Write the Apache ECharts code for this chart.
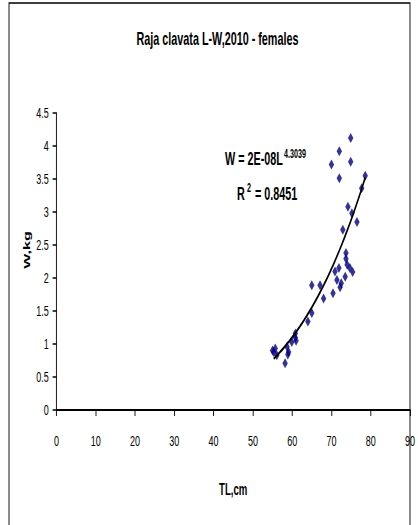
<!DOCTYPE html>
<html><head><meta charset="utf-8">
<script src="https://cdn.jsdelivr.net/npm/echarts@6/dist/echarts.min.js"></script>
<style>
html,body{margin:0;padding:0;overflow:hidden;background:#fff;width:418px;height:525px}
#wrap{position:absolute;left:0;top:0;width:418px;height:525px;overflow:hidden}
#chart{position:absolute;left:0;top:0;width:697px;height:525px;transform:scaleX(0.6);transform-origin:0 0}
</style></head>
<body><div id="wrap"><div id="chart"></div></div>
<script>
// ---- data ----
const titleText = 'Raja clavata L-W,2010 - females';
const xName = 'TL,cm';
const yName = 'W,kg';
const lengthTL = [55.3, 55.7, 56.1, 55.0, 58.2, 58.7, 59.1, 58.9, 59.9, 60.8, 60.8, 61.0, 64.0, 65.0, 65.0, 67.1, 68.0, 70.4, 70.9, 71.4, 71.9, 72.2, 72.5, 73.5, 73.7, 73.7, 74.0, 74.7, 75.4, 72.9, 74.2, 75.2, 76.5, 77.7, 78.6, 70.0, 72.0, 72.0, 74.9, 74.9];
const weightKg = [0.88, 0.93, 0.83, 0.90, 0.71, 0.96, 0.88, 0.84, 1.03, 1.10, 1.16, 1.05, 1.34, 1.47, 1.89, 1.89, 1.69, 1.77, 2.10, 1.97, 2.15, 1.86, 1.92, 2.02, 2.38, 2.29, 2.20, 2.15, 2.09, 2.73, 3.08, 2.98, 2.85, 3.36, 3.55, 3.72, 3.92, 3.51, 4.12, 3.76];
const xTicks = [0, 10, 20, 30, 40, 50, 60, 70, 80, 90];
const yTicks = [0, 0.5, 1, 1.5, 2, 2.5, 3, 3.5, 4, 4.5];
// power trendline W = a * L^b (equation shown on the chart)
const trendCoef = 2.45e-8;
const trendExp = 4.3039;
const trendFrom = 55.3;
const trendTo = 78.6;
const eqMain = 'W = 2E-08L';
const eqSup = '4.3039';
const r2Main = '= 0.8451';

// ---- layout ----
const S = 0.6; // horizontal squeeze of the original picture
const X = px => px / S;
const FONT = "'Liberation Sans', Arial, sans-serif";

const points = lengthTL.map((v, i) => [v, weightKg[i]]);
const trend = [];
for (let k = 0; k <= 60; k++) {
  const L = trendFrom + (trendTo - trendFrom) * k / 60;
  trend.push([L, trendCoef * Math.pow(L, trendExp)]);
}

const chart = echarts.init(document.getElementById('chart'), null, {renderer: 'svg', width: 697, height: 525});
chart.setOption({
  animation: false,
  backgroundColor: '#fff',
  grid: {left: X(56.5), right: 697 - X(410), top: 113, bottom: 525 - 410},
  xAxis: {
    type: 'value', min: xTicks[0], max: xTicks[xTicks.length - 1], interval: xTicks[1] - xTicks[0],
    name: xName, nameLocation: 'middle', nameGap: 72,
    nameTextStyle: {fontFamily: FONT, fontWeight: 'bold', fontSize: 16, color: '#000'},
    axisLine: {show: true, lineStyle: {color: '#000', width: 2}},
    axisTick: {show: true, length: 6, lineStyle: {color: '#000', width: 1.5}},
    axisLabel: {fontFamily: FONT, fontSize: 15, color: '#000', margin: 24},
    splitLine: {show: false}
  },
  yAxis: {
    type: 'value', min: yTicks[0], max: yTicks[yTicks.length - 1], interval: yTicks[1] - yTicks[0],
    axisLine: {show: true, lineStyle: {color: '#000', width: 1.5}},
    axisTick: {show: true, length: 6.5, lineStyle: {color: '#000', width: 1.5}},
    axisLabel: {fontFamily: FONT, fontSize: 15, color: '#000', margin: 13},
    splitLine: {show: false}
  },
  series: [
    {type: 'scatter', data: points, symbol: 'diamond', symbolSize: [9, 10],
     itemStyle: {color: '#000080'}, z: 2},
    {type: 'line', data: trend, showSymbol: false, smooth: false,
     lineStyle: {color: '#000', width: 2.5}, z: 3}
  ],
  graphic: [
    {type: 'rect', silent: true, shape: {x: X(9), y: 3, width: X(410) - X(9), height: 600},
     style: {fill: 'none', stroke: '#000', lineWidth: 1.5}, z: 10},
    {type: 'text', x: X(217.5), y: 38.5, style: {text: titleText, fontFamily: FONT, fontWeight: 'bold', fontSize: 18, fill: '#000', align: 'center', verticalAlign: 'middle'}},
    {type: 'text', x: X(27), y: 250, rotation: Math.PI / 2, style: {text: yName, fontFamily: FONT, fontWeight: 'bold', fontSize: 16, fill: '#000', align: 'center', verticalAlign: 'middle'}},
    {type: 'text', x: X(225), y: 159, style: {text: eqMain, fontFamily: FONT, fontWeight: 'bold', fontSize: 18, fill: '#000', align: 'left', verticalAlign: 'middle'}},
    {type: 'text', x: X(284), y: 153.5, style: {text: eqSup, fontFamily: FONT, fontWeight: 'bold', fontSize: 12, fill: '#000', align: 'left', verticalAlign: 'middle'}},
    {type: 'text', x: X(237), y: 194, style: {text: 'R', fontFamily: FONT, fontWeight: 'bold', fontSize: 18, fill: '#000', align: 'left', verticalAlign: 'middle'}},
    {type: 'text', x: X(247), y: 188, style: {text: '2', fontFamily: FONT, fontWeight: 'bold', fontSize: 12, fill: '#000', align: 'left', verticalAlign: 'middle'}},
    {type: 'text', x: X(255), y: 194, style: {text: r2Main, fontFamily: FONT, fontWeight: 'bold', fontSize: 18, fill: '#000', align: 'left', verticalAlign: 'middle'}}
  ]
});
</script></body></html>
